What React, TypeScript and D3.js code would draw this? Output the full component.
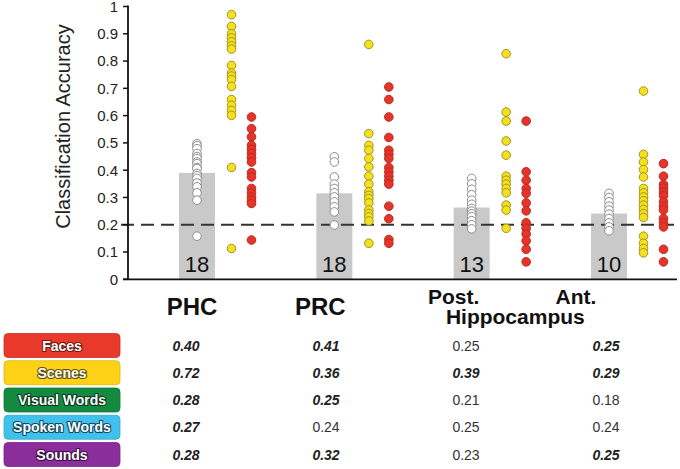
import React from "react";
import * as d3 from "d3";

// ---------- data ----------
const regions = ["PHC", "PRC", "Post", "Ant"];
const barMeans = [0.39, 0.315, 0.263, 0.241];
const barCounts = [18, 18, 13, 10];

const whiteDots = [
  [0.497, 0.49, 0.479, 0.461, 0.45, 0.443, 0.43, 0.424, 0.41, 0.406, 0.388, 0.38, 0.37, 0.353, 0.339, 0.317, 0.29, 0.158],
  [0.449, 0.43, 0.375, 0.349, 0.333, 0.317, 0.302, 0.284, 0.266, 0.247, 0.199],
  [0.37, 0.35, 0.33, 0.31, 0.29, 0.275, 0.26, 0.25, 0.24, 0.23, 0.215, 0.2, 0.185],
  [0.315, 0.3, 0.284, 0.268, 0.254, 0.239, 0.223, 0.207, 0.192, 0.178],
];
const sceneDots = [
  [0.97, 0.927, 0.9, 0.885, 0.871, 0.856, 0.844, 0.784, 0.756, 0.745, 0.732, 0.707, 0.659, 0.638, 0.619, 0.601, 0.41, 0.113],
  [0.861, 0.534, 0.491, 0.473, 0.443, 0.412, 0.378, 0.349, 0.321, 0.308, 0.296, 0.28, 0.254, 0.241, 0.229, 0.214, 0.132],
  [0.827, 0.613, 0.58, 0.507, 0.455, 0.378, 0.363, 0.349, 0.333, 0.317, 0.272, 0.254, 0.187],
  [0.69, 0.458, 0.43, 0.402, 0.375, 0.333, 0.317, 0.302, 0.288, 0.272, 0.256, 0.241, 0.227, 0.158, 0.132, 0.113, 0.097],
];
const faceDots = [
  [0.595, 0.552, 0.522, 0.491, 0.476, 0.461, 0.446, 0.43, 0.391, 0.375, 0.333, 0.317, 0.302, 0.29, 0.278, 0.144],
  [0.705, 0.659, 0.595, 0.52, 0.473, 0.458, 0.443, 0.41, 0.394, 0.378, 0.363, 0.349, 0.268, 0.222, 0.146, 0.132],
  [0.58, 0.394, 0.363, 0.333, 0.315, 0.28, 0.251, 0.207, 0.187, 0.166, 0.141, 0.11, 0.064],
  [0.424, 0.378, 0.347, 0.334, 0.32, 0.306, 0.284, 0.268, 0.254, 0.223, 0.207, 0.192, 0.11, 0.064],
];
const chanceLevel = 0.2;
const yTicks = [0, 0.1, 0.2, 0.3, 0.4, 0.5, 0.6, 0.7, 0.8, 0.9, 1];

const tableCategories = ["Faces", "Scenes", "Visual Words", "Spoken Words", "Sounds"];
const tableValues = [
  [0.4, 0.41, 0.25, 0.25],
  [0.72, 0.36, 0.39, 0.29],
  [0.28, 0.25, 0.21, 0.18],
  [0.27, 0.24, 0.25, 0.24],
  [0.28, 0.32, 0.23, 0.25],
];
const tableSignificant = [
  [true, true, false, true],
  [true, true, true, true],
  [true, true, false, false],
  [true, false, false, false],
  [true, true, false, true],
];
const categoryColors = ["#e8392b", "#fcd116", "#148a40", "#40c1ec", "#8b2d9a"];
const categoryStrokes = ["#6e1810", "#5e4b00", "#07361a", "#0d4660", "#3a0f44"];

// ---------- chart ----------
export default function App() {
  const W = 680, H = 469;
  const y = d3.scaleLinear().domain([0, 1]).range([279.3, 6.5]);
  const x = d3.scalePoint<string>().domain(regions).range([197, 609]);
  const tableX = d3.scalePoint<string>().domain(regions).range([186, 606]);
  const rowY = d3.scalePoint<string>().domain(tableCategories).range([345.5, 454.5]);
  const fmt = d3.format(".2f");
  const barW = 36;
  const r = 4.3;
  const font = "'Liberation Sans', Arial, Helvetica, sans-serif";

  const labelOffsets = [-5, -14];

  return (
    <div style={{ position: "absolute", left: 0, top: 0, width: W, height: H, background: "#fff" }}>
      <svg width={W} height={H} style={{ display: "block", fontFamily: font }}>
        <rect width={W} height={H} fill="#fff" />
        {/* bars */}
        {regions.map((g, i) => (
          <rect key={g} x={x(g)! - barW / 2} y={y(barMeans[i])} width={barW}
            height={y(0) - y(barMeans[i])} fill="#c9c9c9" />
        ))}
        {/* chance line */}
        <line x1={121} x2={677} y1={y(chanceLevel)} y2={y(chanceLevel)} stroke="#333"
          strokeWidth={2} strokeDasharray="13,7" />
        {/* dots */}
        {regions.map((g, i) => (
          <g key={"d" + g}>
            {whiteDots[i].map((v, j) => (
              <circle key={"w" + j} cx={x(g)!} cy={y(v)} r={r} fill="#fff" stroke="#8c8c8c" strokeWidth={1} />
            ))}
            {sceneDots[i].map((v, j) => (
              <circle key={"s" + j} cx={x(g)! + 34.5} cy={y(v)} r={r} fill="#f4e01c" stroke="#a39322" strokeWidth={1} />
            ))}
            {faceDots[i].map((v, j) => (
              <circle key={"f" + j} cx={x(g)! + 54.5} cy={y(v)} r={r} fill="#e5342a" stroke="#c0281e" strokeWidth={1} />
            ))}
          </g>
        ))}
        {/* bar counts */}
        {regions.map((g, i) => (
          <text key={"n" + g} x={x(g)!} y={272} textAnchor="middle" fontSize={22} fill="#111">
            {barCounts[i]}
          </text>
        ))}
        {/* axes */}
        <line x1={128} x2={128} y1={y(1) - 1} y2={y(0)} stroke="#111" strokeWidth={1.8} />
        <line x1={123} x2={677} y1={y(0)} y2={y(0)} stroke="#111" strokeWidth={1.8} />
        {yTicks.map((t) => (
          <g key={"t" + t}>
            <line x1={123} x2={128} y1={y(t)} y2={y(t)} stroke="#111" strokeWidth={1.5} />
            <text x={118} y={y(t)} dy="0.36em" textAnchor="end" fontSize={15} fill="#222">
              {d3.format("~g")(t)}
            </text>
          </g>
        ))}
        <text transform={`translate(70,${y(0.56)}) rotate(-90)`} textAnchor="middle" fontSize={20} fill="#222">
          Classification Accuracy
        </text>
        {/* region labels */}
        {regions.slice(0, 2).map((g, i) => (
          <text key={"l" + g} x={x(g)! + labelOffsets[i]} y={315} textAnchor="middle" fontSize={24}
            fontWeight="bold" fill="#111">{g}</text>
        ))}
        <text x={x("Post")! - 18} y={303.5} textAnchor="middle" fontSize={21} fontWeight="bold" fill="#111">Post.</text>
        <text x={x("Ant")! - 33} y={303.5} textAnchor="middle" fontSize={21} fontWeight="bold" fill="#111">Ant.</text>
        <text x={(x("Post")! + x("Ant")!) / 2 - 25} y={324} textAnchor="middle" fontSize={21} fontWeight="bold" fill="#111">Hippocampus</text>
        {/* table */}
        {tableCategories.map((c, ri) => (
          <g key={"row" + c}>
            <rect x={4} y={rowY(c)! - 12} width={116} height={24} rx={4} fill={categoryColors[ri]}
              stroke={d3.color(categoryColors[ri])!.darker(0.4).toString()} strokeWidth={0.8} />
            <text x={62} y={rowY(c)!} dy="0.36em" textAnchor="middle" fontSize={14} fontWeight="bold"
              fill="#fff" stroke={categoryStrokes[ri]} strokeWidth={2.2} paintOrder="stroke"
              strokeLinejoin="round">{c}</text>
            {regions.map((g, ci) => (
              <text key={"v" + g} x={tableX(g)!} y={rowY(c)!} dy="0.36em" textAnchor="middle" fontSize={14}
                fontWeight={tableSignificant[ri][ci] ? "bold" : "normal"}
                fontStyle={tableSignificant[ri][ci] ? "italic" : "normal"}
                fill={tableSignificant[ri][ci] ? "#222" : "#333"}>
                {fmt(tableValues[ri][ci])}
              </text>
            ))}
          </g>
        ))}
      </svg>
    </div>
  );
}
